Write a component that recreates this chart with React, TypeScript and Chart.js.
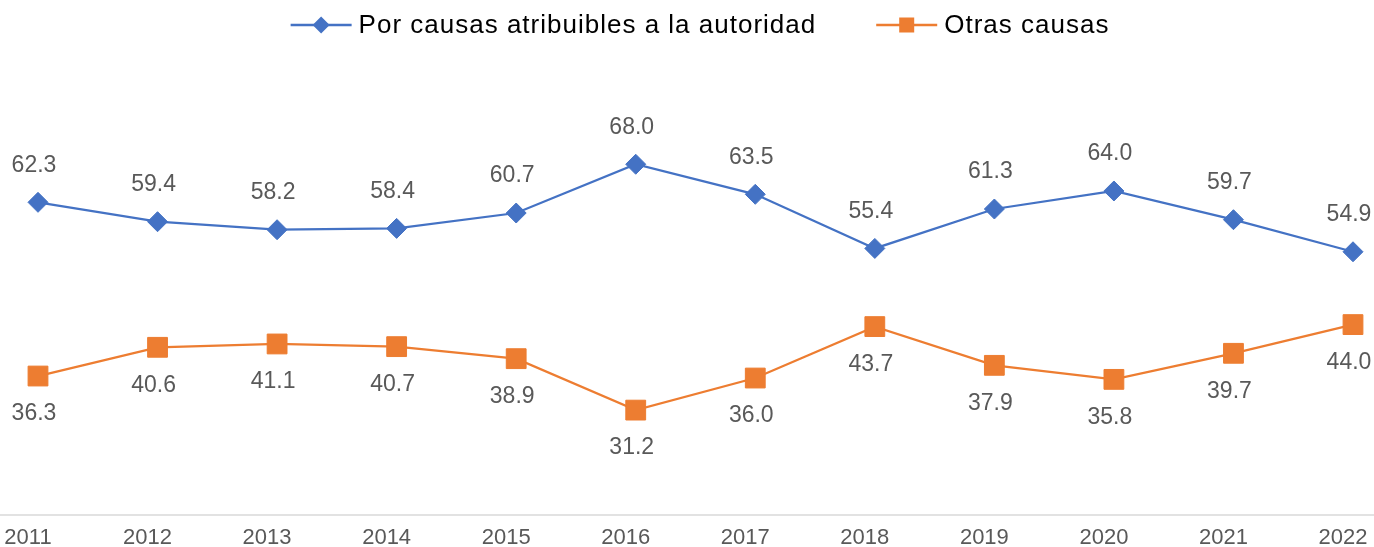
import React, { useEffect, useRef } from "react";
import { Chart, registerables } from "chart.js";

Chart.register(...registerables);

const categories = ["2011", "2012", "2013", "2014", "2015", "2016", "2017", "2018", "2019", "2020", "2021", "2022"];
const seriesNames = ["Por causas atribuibles a la autoridad", "Otras causas"];
const autoridad = [62.3, 59.4, 58.2, 58.4, 60.7, 68.0, 63.5, 55.4, 61.3, 64.0, 59.7, 54.9];
const otras = [36.3, 40.6, 41.1, 40.7, 38.9, 31.2, 36.0, 43.7, 37.9, 35.8, 39.7, 44.0];

const BLUE = "#4472C4";
const ORANGE = "#ED7D31";
const FONT = "'Liberation Sans', Arial, Helvetica, sans-serif";

const axisLinePlugin = {
  id: "axisLineFull",
  beforeDatasetsDraw(chart: any) {
    const { ctx, chartArea, width } = chart;
    ctx.save();
    ctx.strokeStyle = "#d9d9d9";
    ctx.lineWidth = 1.5;
    ctx.beginPath();
    ctx.moveTo(0, chartArea.bottom);
    ctx.lineTo(width, chartArea.bottom);
    ctx.stroke();
    ctx.restore();
  },
};

const dataLabelPlugin = {
  id: "dataLabels",
  afterDatasetsDraw(chart: any) {
    const { ctx } = chart;
    ctx.save();
    ctx.font = `23px ${FONT}`;
    ctx.fillStyle = "#595959";
    ctx.textAlign = "center";
    ctx.textBaseline = "middle";
    chart.data.datasets.forEach((ds: any, i: number) => {
      const meta = chart.getDatasetMeta(i);
      meta.data.forEach((pt: any, j: number) => {
        const v = ds.data[j] as number;
        const dy = i === 0 ? -37 : 38;
        ctx.fillText(v.toFixed(1), pt.x - 4, pt.y + dy);
      });
    });
    ctx.restore();
  },
};

const legendPlugin = {
  id: "customLegend",
  afterDraw(chart: any) {
    const { ctx } = chart;
    ctx.save();
    ctx.font = `26px ${FONT}`;
    try { (ctx as any).letterSpacing = "1px"; } catch (e) {}
    const lineW = 61;
    const gapText = 7;
    const gapItems = 60;
    const widths = seriesNames.map((n) => ctx.measureText(n).width);
    const total = lineW * 2 + gapText * 2 + widths[0] + widths[1] + gapItems;
    let x = 700 - total / 2;
    const y = 25;
    const colors = [BLUE, ORANGE];
    seriesNames.forEach((name, i) => {
      ctx.strokeStyle = colors[i];
      ctx.lineWidth = 2.5;
      ctx.beginPath();
      ctx.moveTo(x, y);
      ctx.lineTo(x + lineW, y);
      ctx.stroke();
      const cx = x + lineW / 2;
      ctx.fillStyle = colors[i];
      ctx.beginPath();
      if (i === 0) {
        const r = 8.5;
        ctx.moveTo(cx - r, y);
        ctx.lineTo(cx, y - r);
        ctx.lineTo(cx + r, y);
        ctx.lineTo(cx, y + r);
        ctx.closePath();
      } else {
        const s = 7.5;
        ctx.rect(cx - s, y - s, 2 * s, 2 * s);
      }
      ctx.fill();
      ctx.fillStyle = "#000000";
      ctx.textAlign = "left";
      ctx.textBaseline = "middle";
      ctx.fillText(name, x + lineW + gapText, y + 1);
      x += lineW + gapText + widths[i] + gapItems;
    });
    ctx.restore();
  },
};

export default function App() {
  const ref = useRef<HTMLCanvasElement | null>(null);

  useEffect(() => {
    if (!ref.current) return;
    const chart = new Chart(ref.current, {
      type: "line",
      data: {
        labels: categories,
        datasets: [
          {
            label: seriesNames[0],
            data: autoridad,
            borderColor: BLUE,
            backgroundColor: BLUE,
            borderWidth: 2.25,
            pointStyle: "rectRot",
            pointRadius: 10,
            pointBorderWidth: 1,
            pointBackgroundColor: BLUE,
            pointBorderColor: BLUE,
            tension: 0,
          },
          {
            label: seriesNames[1],
            data: otras,
            borderColor: ORANGE,
            backgroundColor: ORANGE,
            borderWidth: 2.25,
            pointStyle: "rect",
            pointRadius: 14,
            pointBorderWidth: 1,
            pointBackgroundColor: ORANGE,
            pointBorderColor: ORANGE,
            tension: 0,
          },
        ],
      },
      options: {
        responsive: false,
        animation: false,
        layout: { padding: { top: 50, left: 38, right: 21, bottom: 0 } },
        plugins: {
          legend: { display: false },
          tooltip: { enabled: false },
        },
        scales: {
          x: {
            offset: false,
            grid: { display: false, drawTicks: false },
            border: { display: false },
            ticks: {
              color: "#595959",
              font: { family: FONT, size: 22, lineHeight: 1.0 },
              padding: 12,
              labelOffset: -10,
              autoSkip: false,
              maxRotation: 0,
            },
            afterFit(scale: any) {
              scale.paddingLeft = 0;
              scale.paddingRight = 0;
            },
          },
          y: {
            display: false,
            min: 15.5,
            max: 85.1,
          },
        },
      },
      plugins: [axisLinePlugin, dataLabelPlugin, legendPlugin],
    });
    return () => chart.destroy();
  }, []);

  return (
    <div style={{ position: "fixed", left: 0, top: 0, width: 1374, height: 547, overflow: "hidden", background: "#fff" }}>
      <canvas ref={ref} width={1374} height={561} style={{ display: "block" }} />
    </div>
  );
}
